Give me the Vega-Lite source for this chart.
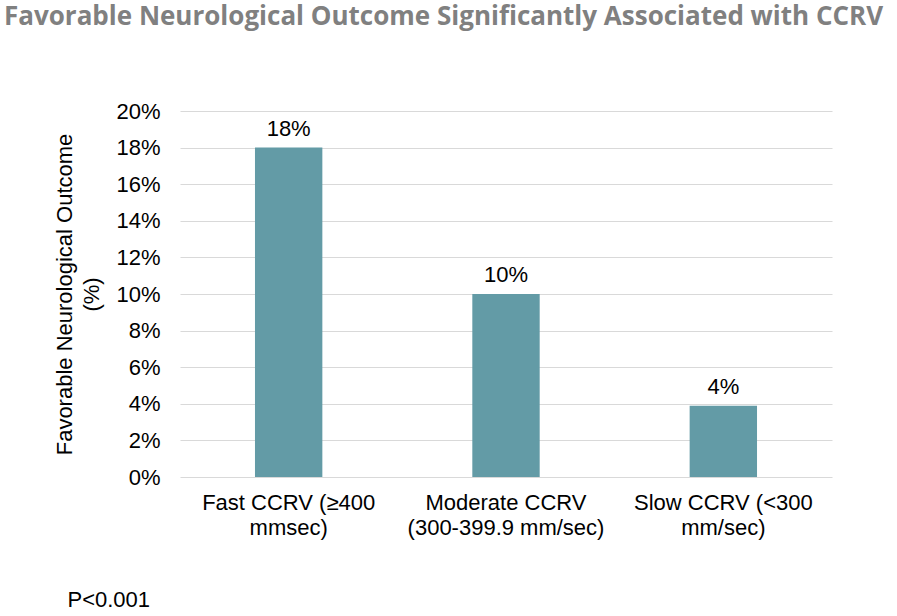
{
  "$schema": "https://vega.github.io/schema/vega-lite/v6.json",
  "autosize": "none",
  "width": 652,
  "height": 366,
  "padding": {"left": 180, "top": 111, "right": 65, "bottom": 139},
  "background": "white",
  "title": {
    "text": "Favorable Neurological Outcome Significantly Associated with CCRV",
    "anchor": "start",
    "frame": "group",
    "dx": -176,
    "offset": 70,
    "font": "Open Sans",
    "fontWeight": "bold",
    "fontSize": 26,
    "color": "#808080"
  },
  "data": {
    "values": [
      {"group": "Fast CCRV (≥400|mmsec)", "value": 0.18, "label": "18%"},
      {"group": "Moderate CCRV|(300-399.9 mm/sec)", "value": 0.10, "label": "10%"},
      {"group": "Slow CCRV (<300|mm/sec)", "value": 0.039, "label": "4%"}
    ]
  },
  "encoding": {
    "x": {
      "field": "group",
      "type": "nominal",
      "sort": null,
      "scale": {"paddingInner": 0.69, "paddingOuter": 0.345},
      "axis": {
        "title": "P<0.001",
        "titleAnchor": "start",
        "titleAlign": "left",
        "titleX": -113,
        "titleY": 112,
        "titleFont": "Liberation Sans",
        "titleFontSize": 22,
        "titleFontWeight": "normal",
        "titleColor": "#000000",
        "labelAngle": 0,
        "labelExpr": "split(datum.label, '|')",
        "labelFont": "Liberation Sans",
        "labelFontSize": 22,
        "labelColor": "#000000",
        "labelLineHeight": 25,
        "labelPadding": 15,
        "labelLimit": 400,
        "domain": false,
        "ticks": false
      }
    },
    "y": {
      "field": "value",
      "type": "quantitative",
      "scale": {"domain": [0, 0.2]},
      "axis": {
        "title": ["Favorable Neurological Outcome", "(%)"],
        "titleFont": "Liberation Sans",
        "titleFontSize": 22,
        "titleFontWeight": "normal",
        "titleColor": "#000000",
        "titleLineHeight": 27,
        "titlePadding": 12,
        "format": ".0%",
        "values": [0, 0.02, 0.04, 0.06, 0.08, 0.1, 0.12, 0.14, 0.16, 0.18, 0.2],
        "tickCount": 30,
        "labelOverlap": false,
        "labelFont": "Liberation Sans",
        "labelFontSize": 22,
        "labelColor": "#000000",
        "labelPadding": 20,
        "domain": false,
        "ticks": false,
        "grid": true,
        "gridColor": "#d9d9d9",
        "gridWidth": 1.2
      }
    }
  },
  "layer": [
    {
      "mark": {"type": "bar", "color": "#639ba6"}
    },
    {
      "mark": {
        "type": "text",
        "baseline": "bottom",
        "dy": -7,
        "font": "Liberation Sans",
        "fontSize": 22,
        "color": "#000000"
      },
      "encoding": {
        "text": {"field": "label"}
      }
    }
  ],
  "config": {"view": {"stroke": null}}
}
